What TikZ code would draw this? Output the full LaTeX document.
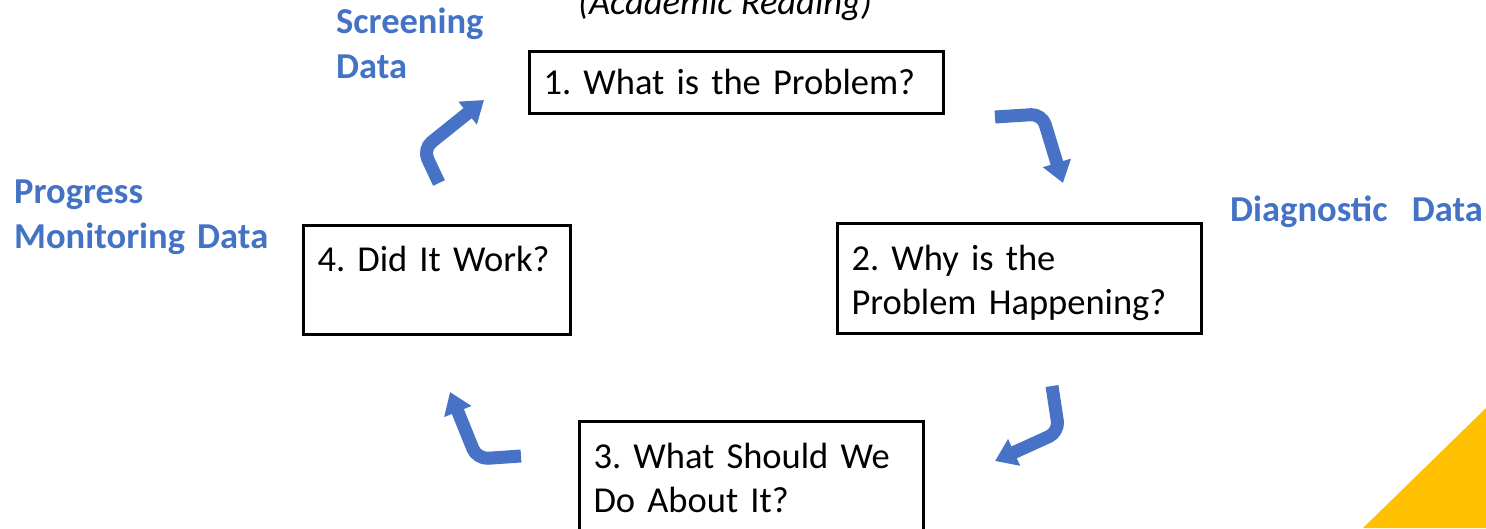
\documentclass[tikz,border=0pt]{standalone}
\usepackage{fontspec}
\setmainfont{Carlito}
\usetikzlibrary{arrows.meta}
\definecolor{cycleblue}{RGB}{72,114,198}
\definecolor{labelblue}{RGB}{68,114,196}
\definecolor{cornergold}{RGB}{255,192,0}
\frenchspacing

\begin{document}
\begin{tikzpicture}[x=1pt,y=-1pt]
    \useasboundingbox (0,0) rectangle (1486,528);
    \clip (0,0) rectangle (1486,528);

    \fill[cornergold] (1486,408) -- (1486,528) -- (1363,528) -- cycle;

    \begin{scope}[every node/.style={draw, line width=3pt, anchor=north west, inner xsep=14pt, inner ysep=0pt, align=left, font=\fontsize{36.5}{44}\selectfont}]
        \node[text width=386pt, text height=43pt, text depth=19pt] (1) at (528,50) {1. What is the Problem?};
        \node[text width=336pt, text height=47pt, text depth=63pt] (2) at (836,222) {2. Why is the\\Problem Happening?};
        \node[text width=316pt, text height=47pt, text depth=80pt] (3) at (578,420) {3. What Should We\\Do About It?};
        \node[text width=239pt, text height=46pt, text depth=63pt] (4) at (302,224) {4. Did It Work?};
    \end{scope}

    \begin{scope}[every node/.style={inner sep=0pt, anchor=base west, text=labelblue, align=left, text width=300pt, font=\bfseries\fontsize{36.5}{45}\selectfont}]
        \node (screening) at (336,33) {Screening\\Data};
        \node (diagnostic) at (1230,221) {Diagnostic\ \ Data};
        \node (progress) at (14,203) {Progress\\Monitoring Data};
    \end{scope}
    \node[inner sep=0pt, anchor=base, font=\itshape\fontsize{36.5}{44}\selectfont] (title) at (725,14) {(Academic Reading)};

    \coordinate (s1) at (439,183);
    \coordinate (c1) at (423,149);
    \coordinate (e1) at (484,100);
    \coordinate (s2) at (995,117);
    \coordinate (c2) at (1042,114);
    \coordinate (e2) at (1063,183);
    \coordinate (s3) at (1052,386);
    \coordinate (c3) at (1059,432);
    \coordinate (e3) at (995,461);
    \coordinate (s4) at (521,456);
    \coordinate (c4) at (477,459);
    \coordinate (e4) at (450,392);

    \begin{scope}[every path/.style={draw=cycleblue, line width=13pt, rounded corners=11pt, -{Triangle[width=28pt,length=21pt]}}]
        \path (s1) -- (c1) -- (e1);
        \path (s2) -- (c2) -- (e2);
        \path (s3) -- (c3) -- (e3);
        \path (s4) -- (c4) -- (e4);
    \end{scope}
\end{tikzpicture}
\end{document}
